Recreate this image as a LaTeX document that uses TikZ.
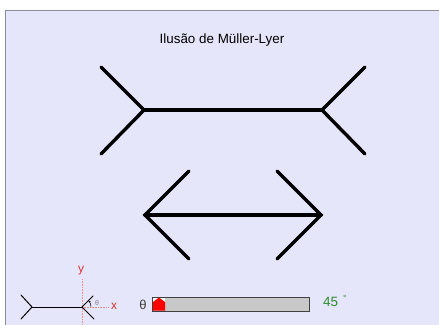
\documentclass[tikz,border=0pt]{standalone}
\usepackage{fontspec}
\setmainfont{Liberation Sans}
\usetikzlibrary{arrows.meta}
\definecolor{panel}{HTML}{E6E6FA}
\definecolor{frame}{HTML}{8A8A9A}
\definecolor{axisred}{HTML}{E03030}
\definecolor{valgreen}{HTML}{2E8B2E}
\definecolor{barfill}{HTML}{C8C8C8}
\definecolor{barline}{HTML}{404040}
\begin{document}
\begin{tikzpicture}[x=1pt,y=-1pt,
  fig/.style={line width=3.4pt, line cap=round, line join=miter},
  icon/.style={line width=1pt, line cap=round},
  axis/.style={axisred!55, densely dotted, line width=0.6pt},
  lbl/.style={inner sep=0pt, font=\fontsize{12}{14}\selectfont}]
\useasboundingbox (0,0) rectangle (439,324);
\fill[white] (0,0) rectangle (439,324);
\draw[fill=panel, draw=frame, line width=1pt] (5,10) rectangle (445,330);

% title
\node[lbl, font=\fontsize{13.4}{15}\selectfont] (title) at (222,40) {Ilusão de Müller-Lyer};

% figure with outward fins
\coordinate (tl) at (144,110);
\coordinate (tr) at (322,110);
\coordinate (tl1) at (101,67);
\coordinate (tl2) at (101,154);
\coordinate (tr1) at (365,67);
\coordinate (tr2) at (365,154);
\draw[fig] (tl1) -- (tl) -- (tl2);
\draw[fig] (tl) -- (tr);
\draw[fig] (tr1) -- (tr) -- (tr2);

% figure with inward fins
\coordinate (ml) at (145,215);
\coordinate (mr) at (321,215);
\coordinate (ml1) at (189,171);
\coordinate (ml2) at (189,259);
\coordinate (mr1) at (277,171);
\coordinate (mr2) at (277,259);
\draw[fig] (ml1) -- (ml) -- (ml2);
\draw[fig] (ml) -- (mr);
\draw[fig] (mr1) -- (mr) -- (mr2);

% small angle icon with axes
\coordinate (il) at (32,307);
\coordinate (ir) at (82,307);
\coordinate (il1) at (21,295);
\coordinate (il2) at (21,319);
\coordinate (ir1) at (93,296);
\coordinate (ir2) at (94,319);
\coordinate (ytop) at (82,279);
\coordinate (ybot) at (82,324);
\coordinate (xend) at (108,307);
\draw[axis] (ytop) -- (ybot);
\draw[axis] (ir) -- (xend);
\node[lbl, text=axisred] (ylab) at (81,271) {y};
\node[lbl, text=axisred] (xlab) at (114,306) {x};
\draw[icon] (il1) -- (il) -- (il2);
\draw[icon] (il) -- (ir);
\draw[icon] (ir1) -- (ir) -- (ir2);
\draw[line width=0.5pt, -{Stealth[length=2.5pt]}] (ir) ++(9,0) arc[start angle=0, end angle=-45, radius=9];
\node[lbl, font=\fontsize{7}{8}\selectfont, text=gray] (th) at (97,303) {θ};

% slider
\node[lbl, text=barline, font=\fontsize{13}{15}\selectfont] (sl) at (143,305) {θ};
\node[draw=barline, fill=barfill, line width=1pt, minimum width=157pt, minimum height=14pt, inner sep=0pt] (bar) at (230.5,304) {};
\fill[white] (153,297.5) rectangle (165,302);
\fill[red] (153,310.5) -- (153,302) -- (159,297.5) -- (165,302) -- (165,310.5) -- cycle;
\node[lbl, text=valgreen, font=\fontsize{13.5}{15}\selectfont, anchor=west] (val) at (323,302) {45};
\node[lbl, text=valgreen!70!gray, font=\fontsize{9}{10}\selectfont] (deg) at (345,298) {°};
\end{tikzpicture}
\end{document}
